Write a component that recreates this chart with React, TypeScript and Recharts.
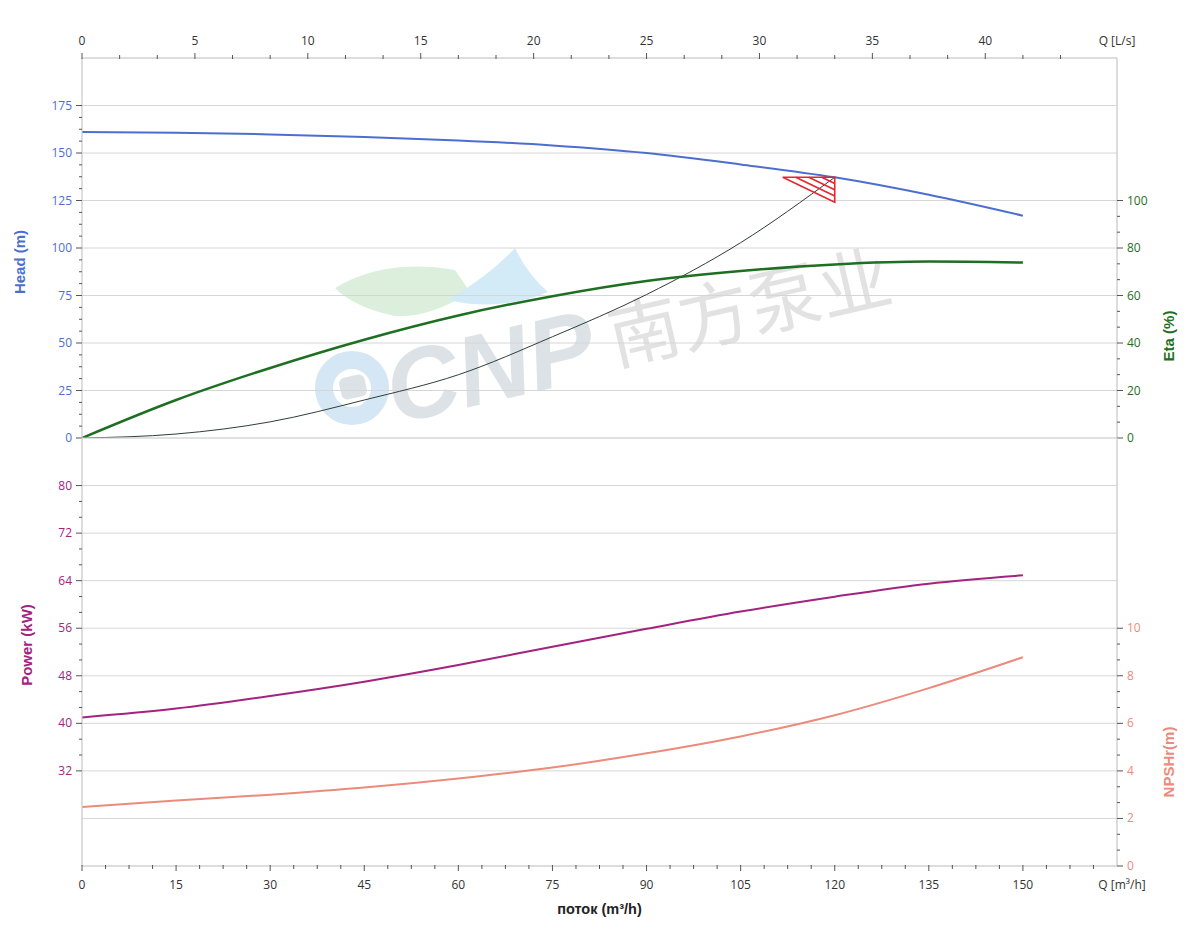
import {
  CartesianGrid,
  ComposedChart,
  Label,
  Line,
  ReferenceDot,
  XAxis,
  YAxis,
} from "recharts";

// curves read at these flow rates (m³/h)
const flow = [0, 15, 30, 45, 60, 75, 90, 105, 120, 135, 150];
const head = [161, 160.7, 159.8, 158.4, 156.6, 154, 150, 144, 137.2, 128, 117];
const eta = [0, 16, 29.5, 41.4, 51.6, 59.7, 66.1, 70.3, 73.1, 74.3, 73.9];
const power = [41, 42.5, 44.6, 47, 49.8, 52.9, 55.9, 58.8, 61.3, 63.5, 64.9];
const npshr = [2.48, 2.75, 3.0, 3.3, 3.68, 4.14, 4.74, 5.45, 6.34, 7.48, 8.78];

// system curve up to the duty point
const systemFlow = [0, 15, 30, 45, 60, 75, 90, 105, 120];
const systemHead = [0, 2.1, 8.5, 20, 33.3, 53.3, 75.5, 102.8, 137.2];

const dutyFlow = 120;
const dutyHead = 137.2;

// axes
const M3H_PER_LS = 3.6;
const FLOW_MAX = 165;
const LS_MAX = FLOW_MAX / M3H_PER_LS;
const flowTicks = [0, 15, 30, 45, 60, 75, 90, 105, 120, 135, 150];
const lsTicks = [0, 5, 10, 15, 20, 25, 30, 35, 40];
const headTicks = [0, 25, 50, 75, 100, 125, 150, 175];
const etaTicks = [0, 20, 40, 60, 80, 100];
const powerTicks = [32, 40, 48, 56, 64, 72, 80];
const npshTicks = [0, 2, 4, 6, 8, 10];

// grid lines, frame included
const flowGrid = [...flowTicks, FLOW_MAX];
const headGrid = [...headTicks, 200];
const powerGrid = [16, 24, ...powerTicks, 88];

const HEAD_COLOR = "#4c6fcf";
const ETA_COLOR = "#1f6f22";
const POWER_COLOR = "#a3237f";
const NPSH_COLOR = "#ec8b7b";
const TICK_TEXT = "#333";

function withMinor(majors: number[], parts: number, upTo: number) {
  const step = (majors[1] - majors[0]) / parts;
  const out: number[] = [];
  for (let v = majors[0]; v <= upTo + 1e-9; v += step) out.push(+v.toFixed(6));
  return out;
}

const pumpRows = flow.map((q, i) => ({
  q,
  ls: q / M3H_PER_LS,
  head: head[i],
  eta: eta[i],
  power: power[i],
  npshr: npshr[i],
}));
const systemRows = systemFlow.map((q, i) => ({ q, ls: q / M3H_PER_LS, h: systemHead[i] }));

type Side = "left" | "right" | "top" | "bottom";

function axisTick(side: Side, majors: number[], color: string, endValue?: number, endText?: string) {
  return (props: any) => {
    const { x, y, payload } = props;
    const v = payload.value as number;
    if (endValue !== undefined && Math.abs(v - endValue) < 1e-4) {
      return side === "top" ? (
        <text x={x} y={y - 13} textAnchor="middle" fill={color} fontSize={12}>
          {endText}
        </text>
      ) : (
        <text x={x + 5} y={y + 23} textAnchor="middle" fill={color} fontSize={12}>
          {endText}
        </text>
      );
    }
    const major = majors.some((m) => Math.abs(m - v) < 1e-4);
    const stroke = "#555";
    if (side === "left")
      return (
        <g>
          <line x1={x - (major ? 6 : 3)} x2={x} y1={y} y2={y} stroke={stroke} />
          {major && (
            <text x={x - 10} y={y + 4} textAnchor="end" fill={color} fontSize={12}>
              {v}
            </text>
          )}
        </g>
      );
    if (side === "right")
      return (
        <g>
          <line x1={x} x2={x + (major ? 6 : 3)} y1={y} y2={y} stroke={stroke} />
          {major && (
            <text x={x + 10} y={y + 4} textAnchor="start" fill={color} fontSize={12}>
              {v}
            </text>
          )}
        </g>
      );
    if (side === "top")
      return (
        <g>
          <line x1={x} x2={x} y1={y - (major ? 5 : 3)} y2={y + 1} stroke={stroke} />
          {major && (
            <text x={x} y={y - 13} textAnchor="middle" fill={color} fontSize={12}>
              {v}
            </text>
          )}
        </g>
      );
    return (
      <g>
        <line x1={x} x2={x} y1={y - 1} y2={y + (major ? 5 : 3)} stroke={stroke} />
        {major && (
          <text x={x} y={y + 23} textAnchor="middle" fill={color} fontSize={12}>
            {v}
          </text>
        )}
      </g>
    );
  };
}

// rotated axis title, shifted from the centre of the axis box
function axisTitle(text: string, color: string, dx: number, dy: number) {
  return (props: any) => {
    const vb = props.viewBox;
    const cx = vb.x + vb.width / 2 + dx;
    const cy = vb.y + vb.height / 2 + dy;
    return (
      <text
        x={cx}
        y={cy}
        transform={`rotate(-90, ${cx}, ${cy})`}
        textAnchor="middle"
        dominantBaseline="central"
        fill={color}
        fontWeight="bold"
        fontSize={15}
        fontFamily="Arial, 'Liberation Sans', sans-serif"
      >
        {text}
      </text>
    );
  };
}

const DutyMarker = (props: any) => {
  const { cx, cy } = props;
  const w = 52;
  const h = 25;
  return (
    <g stroke="#e3262f" strokeWidth={1.6} fill="none">
      <polygon points={`${cx - w},${cy} ${cx},${cy} ${cx},${cy + h}`} />
      {[0.25, 0.5, 0.75].map((t) => (
        <line key={t} x1={cx - w + w * t} y1={cy} x2={cx} y2={cy + h * (1 - t)} />
      ))}
    </g>
  );
};

function Watermark() {
  return (
    <svg width={1200} height={950} style={{ position: "absolute", left: 0, top: 0 }}>
      <path d="M335,288 Q385,258 455,270 L470,292 Q430,318 395,316 Q355,308 335,288Z" fill="#dcefdc" />
      <path d="M448,300 Q490,275 515,248 Q528,275 548,292 Q500,312 448,300Z" fill="#d3eaf7" />
      <circle cx={352} cy={388} r={28} fill="none" stroke="#d5e6f4" strokeWidth={18} />
      <rect x={340} y={376} width={26} height={22} rx={6} fill="#dde2e7" transform="rotate(-13 353 387)" />
      <g transform="rotate(-13 600 340)">
        <text
          x={487}
          y={376}
          textAnchor="middle"
          fontSize={100}
          fontWeight={900}
          fontStyle="italic"
          fill="#dde2e7"
          fontFamily="Arial, 'Liberation Sans', sans-serif"
        >
          CNP
        </text>
        <text x={753} y={368} textAnchor="middle" fontSize={72} fill="#e2e2e2" fontFamily="'Noto Sans CJK SC'">
          南方泵业
        </text>
      </g>
    </svg>
  );
}

export default function App() {
  const gridStroke = "#d6d6d6";
  const axisLine = { stroke: "#cfcfcf" };
  return (
    <div
      style={{
        position: "absolute",
        left: 0,
        top: 0,
        width: 1200,
        height: 950,
        background: "#fff",
        fontFamily: "'Open Sans', Arial, sans-serif",
      }}
    >
      <Watermark />

      {/* upper half: head, efficiency, system curve, plotted against L/s */}
      <div style={{ position: "absolute", left: 0, top: 0 }}>
        <ComposedChart width={1200} height={446} margin={{ top: 28, right: 23, left: 22, bottom: 8 }}>
          <XAxis
            xAxisId="a_ls"
            type="number"
            dataKey="ls"
            orientation="top"
            domain={[0, LS_MAX]}
            allowDataOverflow
            ticks={[...withMinor(lsTicks, 3, 43.34), LS_MAX]}
            interval={0}
            height={30}
            tickLine={false}
            tickSize={0}
            tickMargin={0}
            axisLine={axisLine}
            tick={axisTick("top", lsTicks, TICK_TEXT, LS_MAX, "Q [L/s]")}
          />
          <XAxis xAxisId="z_grid" type="number" domain={[0, FLOW_MAX]} allowDataOverflow ticks={flowGrid} height={0} hide />
          <YAxis
            yAxisId="head"
            domain={[0, 200]}
            allowDataOverflow
            ticks={withMinor(headTicks, 4, 175)}
            interval={0}
            width={60}
            tickLine={false}
            tickSize={0}
            tickMargin={0}
            axisLine={axisLine}
            tick={axisTick("left", headTicks, HEAD_COLOR)}
          >
            <Label position="center" content={axisTitle("Head (m)", HEAD_COLOR, -33, 14)} />
          </YAxis>
          <YAxis yAxisId="z_grid" domain={[0, 200]} allowDataOverflow ticks={headGrid} width={0} hide />
          <YAxis
            yAxisId="eta"
            orientation="right"
            domain={[0, 160]}
            allowDataOverflow
            ticks={withMinor(etaTicks, 3, 100)}
            interval={0}
            width={60}
            tickLine={false}
            tickSize={0}
            tickMargin={0}
            axisLine={axisLine}
            tick={axisTick("right", etaTicks, ETA_COLOR)}
          >
            <Label position="center" content={axisTitle("Eta (%)", ETA_COLOR, 21, 88)} />
          </YAxis>
          <CartesianGrid xAxisId="z_grid" yAxisId="z_grid" stroke={gridStroke} />
          <Line
            xAxisId="a_ls"
            yAxisId="head"
            data={systemRows}
            dataKey="h"
            type="monotone"
            stroke="#2e3f35"
            strokeWidth={1}
            dot={false}
            activeDot={false}
            isAnimationActive={false}
          />
          <Line
            xAxisId="a_ls"
            yAxisId="eta"
            data={pumpRows}
            dataKey="eta"
            type="monotone"
            stroke={ETA_COLOR}
            strokeWidth={2.5}
            dot={false}
            activeDot={false}
            isAnimationActive={false}
          />
          <Line
            xAxisId="a_ls"
            yAxisId="head"
            data={pumpRows}
            dataKey="head"
            type="monotone"
            stroke={HEAD_COLOR}
            strokeWidth={2}
            dot={false}
            activeDot={false}
            isAnimationActive={false}
          />
          <ReferenceDot
            xAxisId="a_ls"
            yAxisId="head"
            x={dutyFlow / M3H_PER_LS}
            y={dutyHead}
            shape={DutyMarker}
          />
        </ComposedChart>
      </div>

      {/* lower half: power and NPSHr */}
      <div style={{ position: "absolute", left: 0, top: 430 }}>
        <ComposedChart width={1200} height={520} margin={{ top: 8, right: 23, left: 22, bottom: 54 }}>
          <XAxis
            xAxisId="q"
            type="number"
            dataKey="q"
            domain={[0, FLOW_MAX]}
            allowDataOverflow
            ticks={[...withMinor(flowTicks, 4, 161.3), FLOW_MAX]}
            interval={0}
            height={30}
            tickLine={false}
            tickSize={0}
            tickMargin={0}
            axisLine={axisLine}
            tick={axisTick("bottom", flowTicks, TICK_TEXT, FLOW_MAX, "Q [m³/h]")}
          >
            <Label
              position="bottom"
              content={(props: any) => {
                const vb = props.viewBox;
                return (
                  <text
                    x={vb.x + vb.width / 2}
                    y={vb.y + 48}
                    textAnchor="middle"
                    fontWeight="bold"
                    fontSize={14.5}
                    fill="#222"
                    fontFamily="Arial, 'Liberation Sans', sans-serif"
                  >
                    поток (m³/h)
                  </text>
                );
              }}
            />
          </XAxis>
          <XAxis xAxisId="z_grid" type="number" domain={[0, FLOW_MAX]} allowDataOverflow ticks={flowGrid} height={0} hide />
          <YAxis
            yAxisId="power"
            domain={[16, 88]}
            allowDataOverflow
            ticks={withMinor(powerTicks, 3, 80)}
            interval={0}
            width={60}
            tickLine={false}
            tickSize={0}
            tickMargin={0}
            axisLine={axisLine}
            tick={axisTick("left", powerTicks, POWER_COLOR)}
          >
            <Label position="center" content={axisTitle("Power (kW)", POWER_COLOR, -26, -7)} />
          </YAxis>
          <YAxis yAxisId="z_grid" domain={[16, 88]} allowDataOverflow ticks={powerGrid} width={0} hide />
          <YAxis
            yAxisId="npsh"
            orientation="right"
            domain={[0, 18]}
            allowDataOverflow
            ticks={withMinor(npshTicks, 3, 10)}
            interval={0}
            width={60}
            tickLine={false}
            tickSize={0}
            tickMargin={0}
            axisLine={axisLine}
            tick={axisTick("right", npshTicks, NPSH_COLOR)}
          >
            <Label position="center" content={axisTitle("NPSHr(m)", NPSH_COLOR, 21, 110)} />
          </YAxis>
          <CartesianGrid xAxisId="z_grid" yAxisId="z_grid" stroke={gridStroke} />
          <Line
            xAxisId="q"
            yAxisId="npsh"
            data={pumpRows}
            dataKey="npshr"
            type="monotone"
            stroke={NPSH_COLOR}
            strokeWidth={2}
            dot={false}
            activeDot={false}
            isAnimationActive={false}
          />
          <Line
            xAxisId="q"
            yAxisId="power"
            data={pumpRows}
            dataKey="power"
            type="monotone"
            stroke={POWER_COLOR}
            strokeWidth={2}
            dot={false}
            activeDot={false}
            isAnimationActive={false}
          />
        </ComposedChart>
      </div>
    </div>
  );
}
